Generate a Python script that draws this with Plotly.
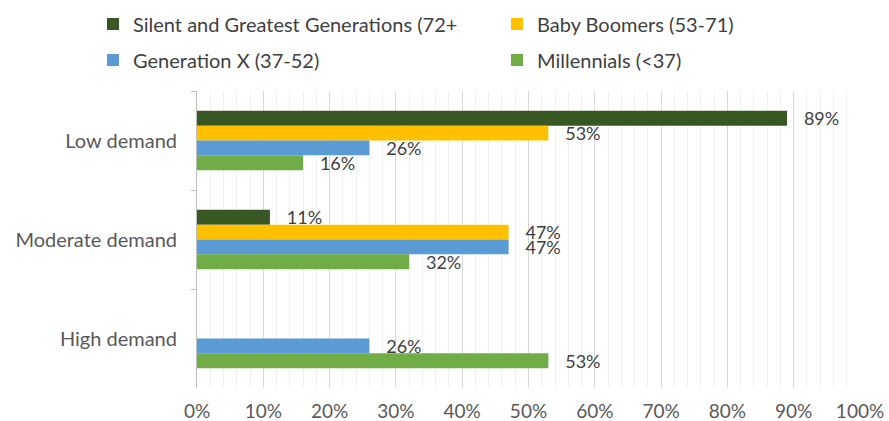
import plotly.graph_objects as go

categories = ["Low demand", "Moderate demand", "High demand"]
series_names = [
    "Silent and Greatest Generations (72+",
    "Baby Boomers (53-71)",
    "Generation X (37-52)",
    "Millennials (<37)",
]
silent = [89, 11, None]
boomers = [53, 47, None]
genx = [26, 47, 26]
millennials = [16, 32, 53]
colors = ["#385723", "#FFC000", "#5B9BD5", "#70AD47"]
x_ticks = [0, 10, 20, 30, 40, 50, 60, 70, 80, 90, 100]
x_tick_labels = ["%d%%" % v for v in x_ticks]

FONT = "Lato"
W, H = 889, 421
L, R, T, B = 197, 29, 91, 33
pw, ph = W - L - R, H - T - B

fig = go.Figure()
all_series = [silent, boomers, genx, millennials]
legends = ["legend", "legend", "legend2", "legend2"]
for name, vals, col, lg in zip(series_names, all_series, colors, legends):
    fig.add_trace(go.Bar(
        y=categories, x=vals, name=name, orientation="h",
        marker=dict(color=col, line=dict(width=0)),
        text=[("   %d%%" % v) if v is not None else "" for v in vals],
        textposition="outside", constraintext="none", cliponaxis=False,
        textfont=dict(family=FONT, size=18, color="#404040"),
        legend=lg, hoverinfo="skip",
    ))

def px_to_paper_x(p):
    return (p - L) / pw

def px_to_paper_y(p):
    return (H - B - p) / ph

leg_common = dict(orientation="h", xanchor="left", yanchor="middle",
                  font=dict(family=FONT, size=20, color="#404040"),
                  entrywidth=359, bgcolor="rgba(0,0,0,0)", traceorder="normal")

fig.update_layout(
    width=W, height=H,
    margin=dict(l=L, r=R, t=T, b=B, autoexpand=False),
    paper_bgcolor="white", plot_bgcolor="white",
    barmode="group", bargap=0.40, bargroupgap=0,
    font=dict(family=FONT, size=20, color="#595959"),
    showlegend=True,
    legend=dict(x=px_to_paper_x(93), y=px_to_paper_y(24), **leg_common),
    legend2=dict(x=px_to_paper_x(93), y=px_to_paper_y(60), **leg_common),
    xaxis=dict(range=[0, 100], tickmode="array", tickvals=x_ticks,
               ticktext=x_tick_labels, automargin=False,
               showgrid=True, gridcolor="#D9D9D9", gridwidth=1,
               minor=dict(dtick=2, showgrid=True, gridcolor="#F0F0F0", gridwidth=1),
               zeroline=False, showline=False, ticks="",
               tickfont=dict(family=FONT, size=19, color="#595959"),
               ticklabelstandoff=10, fixedrange=True),
    yaxis=dict(categoryorder="array", categoryarray=categories,
               autorange="reversed", showline=True, linecolor="#BFBFBF",
               linewidth=1, ticks="outside", tickson="boundaries",
               ticklen=5, tickcolor="#BFBFBF", showgrid=False, automargin=False,
               tickfont=dict(family=FONT, size=20, color="#595959"),
               ticklabelstandoff=15, fixedrange=True),
)

fig.write_html("out.html")
